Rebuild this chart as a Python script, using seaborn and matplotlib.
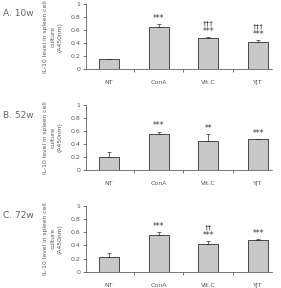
import numpy as np
import pandas as pd
import matplotlib
matplotlib.use("Agg")
import matplotlib.pyplot as plt
import seaborn as sns

sns.set_style("ticks")
plt.rcParams['font.family'] = ['DejaVu Sans']

groups = ["NT", "ConA", "Vit.C", "YJT"]
panels = ["A. 10w", "B. 52w", "C. 72w"]

means_10w = [0.15, 0.65, 0.48, 0.42]
err_10w = [0.005, 0.04, 0.01, 0.03]
stars_10w = ["", "***", "***", "***"]
dags_10w = ["", "", "†††", "†††"]

means_52w = [0.20, 0.55, 0.45, 0.47]
err_52w = [0.07, 0.04, 0.10, 0.01]
stars_52w = ["", "***", "**", "***"]
dags_52w = ["", "", "", ""]

means_72w = [0.23, 0.56, 0.43, 0.48]
err_72w = [0.05, 0.04, 0.04, 0.02]
stars_72w = ["", "***", "***", "***"]
dags_72w = ["", "", "††", ""]

ylabel = "IL-10 level in spleen cell\nculture\n(A450nm)"
txt = "#555555"

fig = plt.figure(figsize=(2.81, 2.88), dpi=100)
boxes = [[0.306, 0.760, 0.662, 0.226],
         [0.306, 0.410, 0.662, 0.225],
         [0.306, 0.056, 0.662, 0.229]]

sets = [(means_10w, err_10w, stars_10w, dags_10w),
        (means_52w, err_52w, stars_52w, dags_52w),
        (means_72w, err_72w, stars_72w, dags_72w)]

for k, (m, e, st, dg) in enumerate(sets):
    ax = fig.add_axes(boxes[k])
    df = pd.DataFrame({"group": groups, "value": m})
    sns.barplot(data=df, x="group", y="value", color="#c8c8c8", saturation=1,
                edgecolor="#303030", linewidth=0.6, width=0.4, ax=ax)
    ax.errorbar(np.arange(len(groups)), m, yerr=[np.zeros(len(e)), e], fmt="none",
                ecolor="#303030", elinewidth=0.5, capsize=1.2, capthick=0.5)
    for i in range(len(groups)):
        top = m[i] + e[i]
        if st[i]:
            ax.text(i, top + 0.02, st[i], ha="center", va="bottom", fontsize=5.5, color="#333333")
        if dg[i]:
            ax.text(i, top + 0.16, dg[i], ha="center", va="bottom", fontsize=5, color="#333333")
    ax.set_xlim(-0.46, 3.28)
    ax.set_ylim(0, 1)
    ax.set_yticks([0, 0.2, 0.4, 0.6, 0.8, 1])
    ax.set_yticklabels(["0", "0.2", "0.4", "0.6", "0.8", "1"])
    ax.set_xticks(range(len(groups)))
    ax.set_xticks([0.5, 1.5, 2.5], minor=True)
    ax.tick_params(axis="x", which="major", length=0, labelsize=4.5, colors=txt, pad=8)
    ax.tick_params(axis="x", which="minor", length=2, width=0.5, color="#404040")
    ax.tick_params(axis="y", length=2, width=0.5, labelsize=4.5, colors=txt, pad=2)
    ax.tick_params(axis="y", color="#404040")
    ax.set_xlabel("")
    ax.set_ylabel(ylabel, fontsize=4.3, color=txt, labelpad=6, linespacing=1.5)
    for s in ["top", "right"]:
        ax.spines[s].set_visible(False)
    for s in ["left", "bottom"]:
        ax.spines[s].set_linewidth(0.5)
        ax.spines[s].set_color("#404040")
    fig.text(0.01, boxes[k][1] + boxes[k][3] - 0.05, panels[k], fontsize=6.5, color="#666666",
             ha="left", va="bottom")

fig.savefig("out.png", dpi=100)
